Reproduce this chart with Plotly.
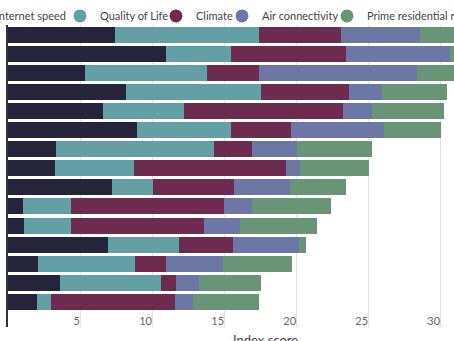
import plotly.graph_objects as go

categories = [f"Location {i}" for i in range(1, 16)]
series_names = ["Internet speed", "Quality of Life", "Climate", "Air connectivity", "Prime residential rent"]
colors = ["#24253a", "#62a0a5", "#6d2c4f", "#6c77a6", "#6a9476"]

internet = [7.43, 11.0, 5.37, 8.17, 6.62, 8.96, 3.33, 3.29, 7.2, 1.06, 1.13, 6.92, 2.06, 3.61, 2.01]
quality = [9.97, 4.5, 8.47, 9.43, 5.63, 6.53, 10.97, 5.46, 2.9, 3.29, 3.27, 4.98, 6.78, 7.02, 0.98]
climate = [5.7, 8.0, 3.56, 6.06, 10.99, 4.16, 2.64, 10.58, 5.57, 10.65, 9.23, 3.73, 2.13, 1.02, 8.61]
air = [5.5, 7.2, 11.0, 2.34, 2.06, 6.45, 3.13, 0.93, 3.93, 1.94, 2.46, 4.57, 3.93, 1.64, 1.27]
prime = [4.4, 1.5, 3.1, 4.5, 4.98, 3.95, 5.23, 4.84, 3.85, 5.46, 5.39, 0.5, 4.82, 4.28, 4.58]
series_values = [internet, quality, climate, air, prime]

x_ticks = [0, 5, 10, 15, 20, 25, 30]
legend_x = [-0.117, 0.1166, 0.3318, 0.4798, 0.7152]

fig = go.Figure()
for name, vals, col in zip(series_names, series_values, colors):
    fig.add_trace(go.Bar(y=categories, x=vals, orientation="h", name=name,
                         marker=dict(color=col, line=dict(width=0)), showlegend=False))

for i, (name, col) in enumerate(zip(series_names, colors)):
    lg = "legend" if i == 0 else f"legend{i+1}"
    fig.add_trace(go.Scatter(x=[None], y=[None], mode="markers", name=name,
                             marker=dict(color=col, size=13, symbol="circle"),
                             legend=lg, showlegend=True))

font = dict(family="Lato, sans-serif", size=11, color="#444444")
layout_legends = {}
for i, lx in enumerate(legend_x):
    key = "legend" if i == 0 else f"legend{i+1}"
    layout_legends[key] = dict(x=lx, y=1.03, xanchor="left", yanchor="middle",
                               orientation="h", bgcolor="rgba(0,0,0,0)",
                               font=font, borderwidth=0)

fig.update_layout(
    width=454, height=341,
    margin=dict(l=8, r=0, t=25, b=14, autoexpand=False),
    barmode="stack", bargap=0.16,
    plot_bgcolor="white", paper_bgcolor="white",
    font=font,
    xaxis=dict(range=[0, 30.97], tickvals=x_ticks, showgrid=True, gridcolor="#e2e2e2",
               gridwidth=1, zeroline=False, showline=False,
               ticklabelposition="inside left", ticklabelstandoff=-6,
               tickfont=dict(family="Lato, sans-serif", size=11, color="#666666")),
    yaxis=dict(categoryorder="array", categoryarray=categories, range=[15.31, -0.5],
               showticklabels=False, showgrid=False, zeroline=False,
               showline=True, linecolor="#333333", linewidth=2, ticks=""),
    annotations=[dict(text="Index score", xref="x", yref="paper", x=17.85, y=0,
                      xanchor="center", yanchor="top", yshift=-3, showarrow=False,
                      font=dict(family="Lato, sans-serif", size=13, color="#444444"))],
    **layout_legends,
)

fig.write_html("out.html")
